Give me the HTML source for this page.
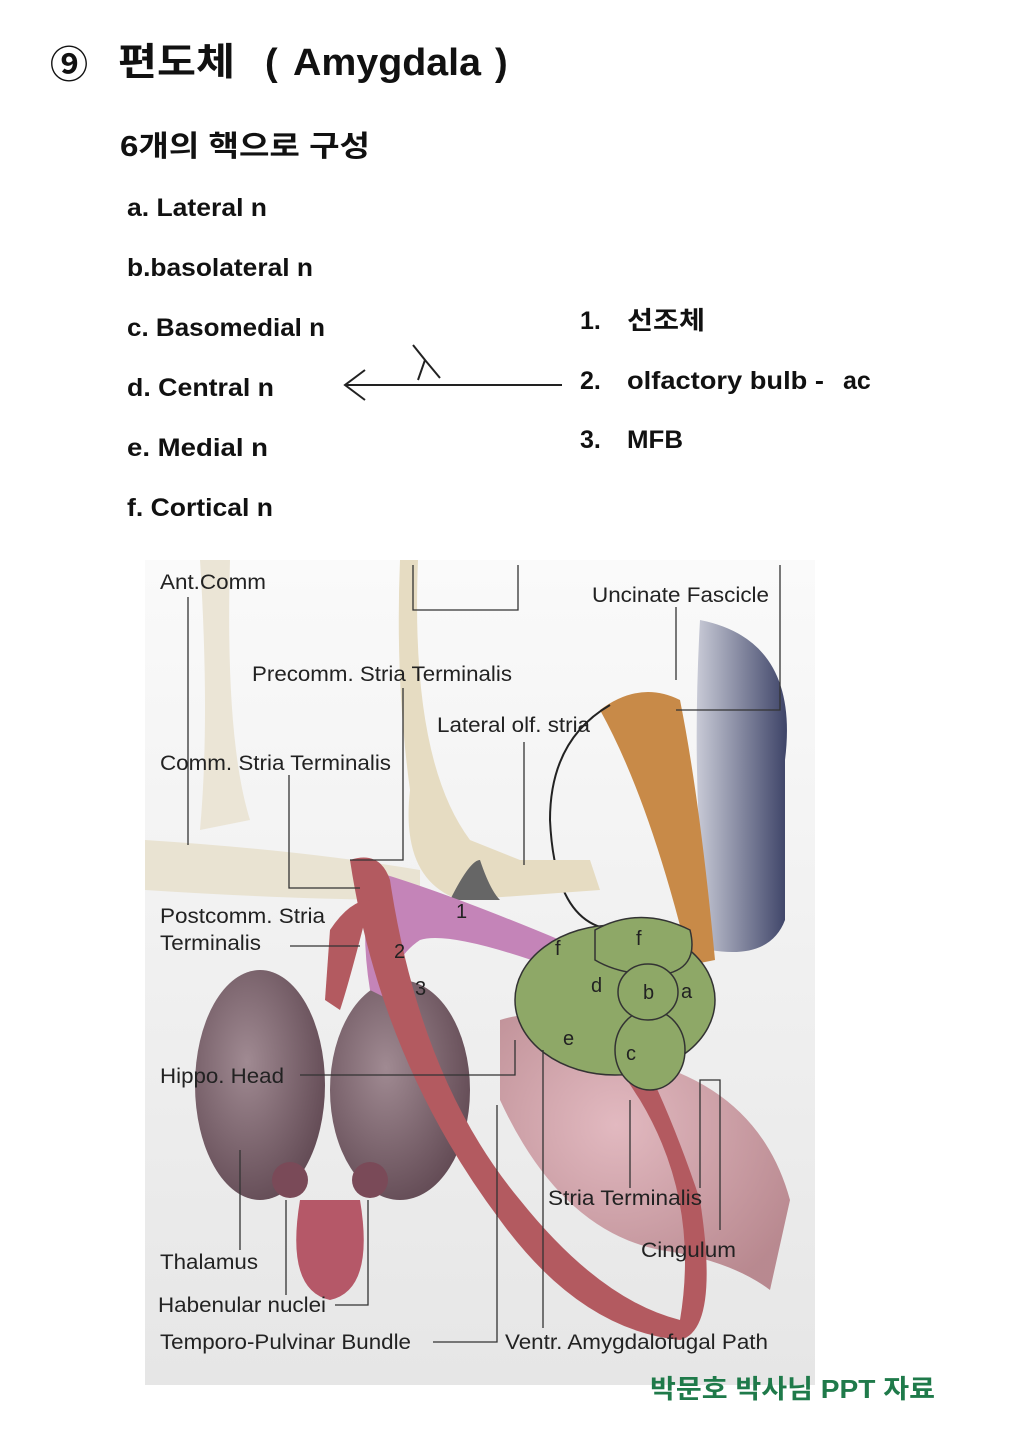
<!DOCTYPE html>
<html><head><meta charset="utf-8"><style>
body{margin:0;background:#fff;}
svg{display:block}
text{font-family:"Liberation Sans","Noto Sans CJK KR",sans-serif;}
.h{font-weight:bold;fill:#111}
.l{font-size:21px;fill:#222}
</style></head><body>
<svg width="1019" height="1440" viewBox="0 0 1019 1440" xmlns="http://www.w3.org/2000/svg">
<defs>
<linearGradient id="bg" x1="0" y1="0" x2="0" y2="1"><stop offset="0" stop-color="#fafafa"/><stop offset="1" stop-color="#e6e6e6"/></linearGradient>
<linearGradient id="blue" x1="0" y1="0" x2="1" y2="0"><stop offset="0" stop-color="#c8cad6"/><stop offset="1" stop-color="#3e4468"/></linearGradient>
<radialGradient id="thal" cx="0.4" cy="0.4" r="0.7"><stop offset="0" stop-color="#a08a92"/><stop offset="1" stop-color="#5e4650"/></radialGradient>
<radialGradient id="pink" cx="0.4" cy="0.4" r="0.7"><stop offset="0" stop-color="#e0b0b8"/><stop offset="1" stop-color="#b07880"/></radialGradient>
</defs>
<!-- header -->
<text x="50" y="78" class="h" font-size="38">⑨</text>
<text x="118" y="75" class="h" font-size="38" textLength="117" lengthAdjust="spacingAndGlyphs">편도체</text>
<text x="265" y="75" class="h" font-size="38">(</text>
<text x="293" y="75" class="h" font-size="38" textLength="188" lengthAdjust="spacingAndGlyphs">Amygdala</text>
<text x="495" y="75" class="h" font-size="38">)</text>
<text x="120" y="156" class="h" font-size="29" textLength="250" lengthAdjust="spacingAndGlyphs">6개의 핵으로 구성</text>
<g class="h" font-size="25">
<text x="127" y="216" textLength="140" lengthAdjust="spacingAndGlyphs">a. Lateral n</text>
<text x="127" y="276" textLength="186" lengthAdjust="spacingAndGlyphs">b.basolateral n</text>
<text x="127" y="336" textLength="198" lengthAdjust="spacingAndGlyphs">c. Basomedial n</text>
<text x="127" y="396" textLength="147" lengthAdjust="spacingAndGlyphs">d. Central n</text>
<text x="127" y="456" textLength="141" lengthAdjust="spacingAndGlyphs">e. Medial n</text>
<text x="127" y="516" textLength="146" lengthAdjust="spacingAndGlyphs">f. Cortical n</text>
<text x="580" y="329">1.</text><text x="627" y="329" textLength="78" lengthAdjust="spacingAndGlyphs">선조체</text>
<text x="580" y="389">2.</text><text x="627" y="389" textLength="197" lengthAdjust="spacingAndGlyphs">olfactory bulb -</text><text x="843" y="389">ac</text>
<text x="580" y="448">3.</text><text x="627" y="448" textLength="56" lengthAdjust="spacingAndGlyphs">MFB</text>
</g>
<g stroke="#222" stroke-width="2" fill="none">
<line x1="345" y1="385" x2="562" y2="385"/>
<polyline points="365,370 345,385 365,400"/>
<path d="M413,345 L425,360 L418,380 M425,360 L440,378"/>
</g>
<!-- illustration -->
<rect x="145" y="560" width="670" height="825" fill="url(#bg)"/>
<path d="M700,620 Q800,640 785,760 L785,920 Q770,960 710,950 Q690,800 700,620Z" fill="url(#blue)"/>
<path d="M600,710 Q640,680 680,700 Q700,800 715,960 L690,965 Q650,800 600,710Z" fill="#c88a48"/>
<path d="M610,705 Q550,740 550,820 Q555,930 620,930" stroke="#222" stroke-width="2" fill="none"/>
<path d="M200,560 L230,560 Q225,740 250,820 L200,830 Q210,720 200,560Z" fill="#ebe5d6"/>
<path d="M400,560 L418,560 Q410,760 470,840 L520,860 L590,860 L600,890 L460,900 Q400,880 410,790 Q395,680 400,560Z" fill="#e6dcc2"/>
<path d="M145,840 Q300,850 420,870 L420,900 Q300,900 145,890Z" fill="#e9e3d2"/>
<path d="M450,900 Q470,860 480,860 Q490,890 500,900Z" fill="#666"/>
<path d="M500,1020 Q560,1000 640,1060 Q760,1090 790,1200 L770,1290 Q730,1260 660,1250 Q560,1230 500,1100Z" fill="url(#pink)" opacity="0.85"/>
<ellipse cx="260" cy="1085" rx="65" ry="115" fill="url(#thal)"/>
<ellipse cx="400" cy="1090" rx="70" ry="110" fill="url(#thal)"/>
<circle cx="290" cy="1180" r="18" fill="#7a4a58"/><circle cx="370" cy="1180" r="18" fill="#7a4a58"/>
<path d="M300,1200 L360,1200 Q375,1290 330,1300 Q285,1290 300,1200Z" fill="#b55868"/>
<path d="M370,870 Q440,890 560,940 L560,970 Q450,930 420,940 Q390,960 390,1000 L370,990 Q360,930 370,870Z" fill="#c484b8"/>
<path d="M350,860 Q380,850 390,880 Q420,1080 520,1200 Q600,1300 680,1320 Q700,1200 640,1100 Q600,1040 590,1000 L610,1000 Q660,1080 700,1200 Q720,1330 680,1340 Q580,1330 500,1220 Q380,1060 350,860Z" fill="#b35a60"/>
<path d="M330,930 Q350,900 370,900 Q350,980 340,1010 L325,1000Z" fill="#b35a60"/>
<ellipse cx="615" cy="1000" rx="100" ry="75" fill="#8ea867" stroke="#333" stroke-width="1.5"/>
<ellipse cx="650" cy="1050" rx="35" ry="40" fill="#8ea867" stroke="#333" stroke-width="1.5"/>
<path d="M595,930 Q640,905 690,930 Q700,970 660,975 Q620,975 595,960Z" fill="#8ea867" stroke="#333" stroke-width="1.5"/>
<ellipse cx="648" cy="992" rx="30" ry="28" fill="#8ea867" stroke="#333" stroke-width="1.5"/>
<g font-size="20" fill="#222">
<text x="555" y="955">f</text><text x="636" y="945">f</text><text x="591" y="992">d</text><text x="643" y="999">b</text><text x="681" y="998">a</text><text x="563" y="1045">e</text><text x="626" y="1060">c</text>
<text x="456" y="918">1</text><text x="394" y="958">2</text><text x="415" y="995">3</text>
</g>
<g stroke="#333" stroke-width="1.3" fill="none">
<path d="M188,597 V845"/>
<path d="M413,565 V610 H518 V565"/>
<path d="M676,607 V680"/><path d="M676,710 H780 V565"/>
<path d="M403,688 V860 H350"/>
<path d="M524,742 V865"/>
<path d="M289,775 V888 H360"/>
<path d="M290,946 H360"/>
<path d="M300,1075 H515 V1040"/>
<path d="M240,1150 V1250"/><path d="M286,1200 V1295"/><path d="M368,1200 V1305 H335"/>
<path d="M433,1342 H497 V1105"/><path d="M543,1328 V1050"/>
<path d="M630,1188 V1100"/><path d="M700,1188 V1080 H720 V1230"/>
</g>
<g class="l">
<text x="160" y="589" textLength="106" lengthAdjust="spacingAndGlyphs">Ant.Comm</text>
<text x="592" y="602" textLength="177" lengthAdjust="spacingAndGlyphs">Uncinate Fascicle</text>
<text x="252" y="681" textLength="260" lengthAdjust="spacingAndGlyphs">Precomm. Stria Terminalis</text>
<text x="437" y="732" textLength="153" lengthAdjust="spacingAndGlyphs">Lateral olf. stria</text>
<text x="160" y="770" textLength="231" lengthAdjust="spacingAndGlyphs">Comm. Stria Terminalis</text>
<text x="160" y="923" textLength="165" lengthAdjust="spacingAndGlyphs">Postcomm. Stria</text>
<text x="160" y="950" textLength="101" lengthAdjust="spacingAndGlyphs">Terminalis</text>
<text x="160" y="1083" textLength="124" lengthAdjust="spacingAndGlyphs">Hippo. Head</text>
<text x="548" y="1205" textLength="154" lengthAdjust="spacingAndGlyphs">Stria Terminalis</text>
<text x="641" y="1257" textLength="95" lengthAdjust="spacingAndGlyphs">Cingulum</text>
<text x="160" y="1269" textLength="98" lengthAdjust="spacingAndGlyphs">Thalamus</text>
<text x="158" y="1312" textLength="168" lengthAdjust="spacingAndGlyphs">Habenular nuclei</text>
<text x="160" y="1349" textLength="251" lengthAdjust="spacingAndGlyphs">Temporo-Pulvinar Bundle</text>
<text x="505" y="1349" textLength="263" lengthAdjust="spacingAndGlyphs">Ventr. Amygdalofugal Path</text>
</g>
<text x="650" y="1398" font-size="26" font-weight="bold" fill="#1f7a4a" textLength="285" lengthAdjust="spacingAndGlyphs">박문호 박사님 PPT 자료</text>
</svg>
</body></html>
